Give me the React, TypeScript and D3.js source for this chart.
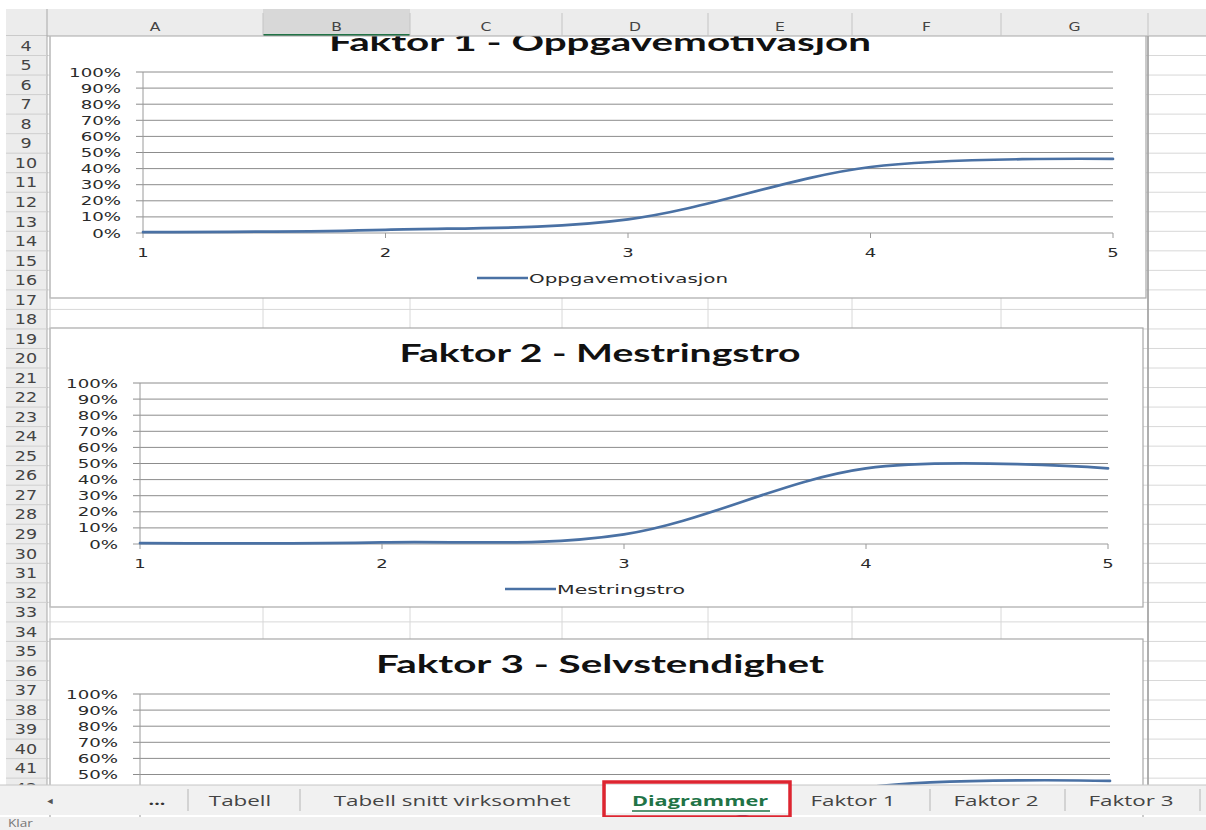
import React from 'react';
import * as d3 from 'd3';

// ---------- data ----------
const xCategories = [1, 2, 3, 4, 5];
const yTickValues = [0, 10, 20, 30, 40, 50, 60, 70, 80, 90, 100];
const chartTitles = ['Faktor 1 - Oppgavemotivasjon', 'Faktor 2 - Mestringstro', 'Faktor 3 - Selvstendighet'];
const seriesNames = ['Oppgavemotivasjon', 'Mestringstro', 'Selvstendighet'];
const oppgavemotivasjon = [0.5, 2, 8.5, 41, 46];
const mestringstro = [0.5, 1, 6, 47, 47];
const selvstendighet = [0.5, 1.5, 8, 42, 46];
const columnLetters = ['A', 'B', 'C', 'D', 'E', 'F', 'G'];
const rowNumbers = d3.range(4, 43);
const sheetTabs = ['Tabell', 'Tabell snitt virksomhet', 'Diagrammer', 'Faktor 1', 'Faktor 2', 'Faktor 3'];
const statusText = 'Klar';

// ---------- layout ----------
const W = 1206, H = 830;
const HEADER_TOP = 9, HEADER_BOTTOM = 36;
const ROW_H = 19.53;
const colBounds = [47, 263, 410, 562, 708, 852, 1001, 1148];
const TAB_TOP = 785, TAB_BOTTOM = 815;
const LINE_COLOR = '#4a71a4';
const GRID = '#8c8c8c';
const TICK_FONT = 'DejaVu Sans, Verdana, sans-serif';
const UI_FONT = 'Open Sans, Noto Sans, sans-serif';

const charts = [
  { top: 17, x0: 143, x1: 1113, right: 1146, h: 281, values: oppgavemotivasjon, titleW: 542, legendX: 477, legendTextW: 199 },
  { top: 328, x0: 140, x1: 1108, right: 1143, h: 279, values: mestringstro, titleW: 401, legendX: 505, legendTextW: 128 },
  { top: 639, x0: 140, x1: 1110, right: 1143, h: 279, values: selvstendighet, titleW: 448, legendX: 490, legendTextW: 150 },
];

function SText(props: { x: number; y: number; text: string; size: number; sx?: number; anchor?: string; fill?: string; weight?: string | number; family?: string; }) {
  const { x, y, text, size, sx = 1.45, anchor = 'start', fill = '#2a2a2a', weight = 'normal', family = TICK_FONT } = props;
  return (
    <text transform={`translate(${x},${y}) scale(${sx},1)`} fontSize={size} textAnchor={anchor} fill={fill} fontWeight={weight} fontFamily={family}>
      {text}
    </text>
  );
}

// text lying fully under the sheet-tab bar is hidden in the reference; skip it
const visible = (baseline: number, size: number) => baseline - size * 0.75 < TAB_TOP;

function Chart({ idx }: { idx: number }) {
  const c = charts[idx];
  const y = d3.scaleLinear().domain([0, 100]).range([c.top + 216, c.top + 55]);
  const x = d3.scaleLinear().domain([1, 5]).range([c.x0, c.x1]);
  const line = d3.line<number>()
    .x((_, i) => x(xCategories[i]))
    .y((d) => y(d))
    .curve(d3.curveCardinal.tension(0));
  const legendY = c.top + 261;
  return (
    <g>
      <rect x={50} y={c.top} width={c.right - 50} height={c.h} fill="#fff" stroke="#a8a8a8" strokeWidth={1.2} />
      <text x={600} y={c.top + 34} textAnchor="middle" fontFamily="Lato, Open Sans, sans-serif" fontWeight={700} fontSize={25} fill="#111"
        textLength={c.titleW} lengthAdjust="spacingAndGlyphs">{chartTitles[idx]}</text>
      {yTickValues.map((t) => (
        <g key={t}>
          <line x1={c.x0 - 7} x2={c.x1} y1={y(t)} y2={y(t)} stroke={t === 0 ? '#9a9a9a' : GRID} strokeWidth={1} />
          {visible(y(t) + 4.5, 11.5) && (
            <SText x={c.x0 - 22} y={y(t) + 4.5} text={`${t}%`} size={11.5} sx={1.58} anchor="end" />
          )}
        </g>
      ))}
      <line x1={c.x0} x2={c.x0} y1={y(100)} y2={y(0)} stroke="#9a9a9a" />
      {xCategories.map((v) => (
        <g key={v}>
          <line x1={x(v)} x2={x(v)} y1={y(0)} y2={y(0) + 5} stroke="#9a9a9a" />
          {visible(c.top + 240, 12) && (
            <SText x={x(v)} y={c.top + 240} text={String(v)} size={12} sx={1.5} anchor="middle" />
          )}
        </g>
      ))}
      <path d={line(c.values) || ''} fill="none" stroke={LINE_COLOR} strokeWidth={2.7} strokeLinecap="round" />
      <line x1={c.legendX} x2={c.legendX + 51} y1={legendY} y2={legendY} stroke={LINE_COLOR} strokeWidth={2.7} />
      {visible(legendY + 5, 12.5) && (
        <text x={c.legendX + 52} y={legendY + 5} fontFamily={TICK_FONT} fontSize={12.5} fill="#2a2a2a"
          textLength={c.legendTextW} lengthAdjust="spacingAndGlyphs">{seriesNames[idx]}</text>
      )}
    </g>
  );
}

export default function App() {
  const rowTop = (n: number) => HEADER_BOTTOM + (n - 4) * ROW_H;
  const tabX = [240, 452, 700, 853, 996, 1131];
  const tabSeps = [188, 300, 930, 1065, 1200];
  return (
    <svg width={W} height={H} style={{ position: 'absolute', left: 0, top: 0, background: '#fff' }}>
      <rect x={0} y={0} width={W} height={H} fill="#fff" />
      {/* sheet grid */}
      {rowNumbers.map((n) => (
        <line key={'r' + n} x1={47} x2={W} y1={rowTop(n) + ROW_H} y2={rowTop(n) + ROW_H} stroke="#d8d8d8" />
      ))}
      {colBounds.slice(1).map((b, i) => (
        <line key={'c' + i} x1={b} x2={b} y1={HEADER_BOTTOM} y2={TAB_TOP} stroke="#d8d8d8" />
      ))}
      <line x1={1148} x2={1148} y1={HEADER_BOTTOM} y2={TAB_TOP} stroke="#9b9b9b" strokeWidth={1.5} />

      {charts.map((_, i) => <Chart key={i} idx={i} />)}

      {/* column header */}
      <rect x={0} y={0} width={W} height={HEADER_TOP} fill="#fff" />
      <rect x={6} y={HEADER_TOP} width={W - 6} height={HEADER_BOTTOM - HEADER_TOP} fill="#ececec" />
      <rect x={263} y={HEADER_TOP} width={147} height={HEADER_BOTTOM - HEADER_TOP} fill="#d8d8d8" />
      <line x1={263} x2={410} y1={HEADER_BOTTOM - 1} y2={HEADER_BOTTOM - 1} stroke="#217346" strokeWidth={2} />
      <line x1={6} x2={W} y1={HEADER_BOTTOM} y2={HEADER_BOTTOM} stroke="#a8a8a8" />
      {colBounds.slice(1).map((b) => (
        <line key={'hs' + b} x1={b} x2={b} y1={HEADER_TOP + 4} y2={HEADER_BOTTOM} stroke="#c4c4c4" />
      ))}
      {columnLetters.map((l, i) => (
        <SText key={'h' + l} x={(colBounds[i] + colBounds[i + 1]) / 2} y={HEADER_BOTTOM - 5} text={l} size={12} sx={1.3} anchor="middle" fill="#444" />
      ))}
      {/* row header */}
      <rect x={6} y={HEADER_BOTTOM} width={41} height={TAB_TOP - HEADER_BOTTOM} fill="#ececec" />
      <line x1={47} x2={47} y1={HEADER_TOP} y2={TAB_TOP} stroke="#a8a8a8" />
      <line x1={50} x2={50} y1={HEADER_BOTTOM} y2={TAB_TOP} stroke="#c8c8c8" />
      {rowNumbers.map((n) => (
        <g key={'rh' + n}>
          <line x1={6} x2={47} y1={rowTop(n) + ROW_H} y2={rowTop(n) + ROW_H} stroke="#cfcfcf" />
          <SText x={26} y={rowTop(n) + ROW_H / 2 + 5} text={String(n)} size={13.5} sx={1.3} anchor="middle" fill="#444" />
        </g>
      ))}
      {/* tab bar */}
      <rect x={0} y={TAB_TOP} width={W} height={TAB_BOTTOM - TAB_TOP} fill="#f1f1f1" />
      <line x1={0} x2={W} y1={TAB_TOP} y2={TAB_TOP} stroke="#c6c6c6" />
      <SText x={50} y={804} text="◄" size={9} sx={1} anchor="middle" fill="#555" family={UI_FONT} />
      <SText x={157} y={805} text="..." size={14} sx={1.4} anchor="middle" fill="#333" weight={700} family={UI_FONT} />
      {tabSeps.map((s) => <line key={s} x1={s} x2={s} y1={789} y2={811} stroke="#b5b5b5" />)}
      <rect x={606} y={TAB_TOP} width={183} height={28} fill="#fff" />
      {sheetTabs.map((t, i) => (
        <SText key={t} x={tabX[i]} y={806} text={t} size={14} sx={i === 2 ? 1.55 : 1.6} anchor="middle"
          fill={i === 2 ? '#217346' : '#444'} weight={i === 2 ? 700 : 400} family={UI_FONT} />
      ))}
      <line x1={632} x2={770} y1={811} y2={811} stroke="#217346" strokeWidth={1.5} />
      <rect x={604} y={782} width={186} height={35} fill="none" stroke="#dd2530" strokeWidth={3.5} />
      {/* status bar */}
      <rect x={0} y={TAB_BOTTOM + 2} width={W} height={H - TAB_BOTTOM - 2} fill="#f0f0f0" />
      <SText x={8} y={827} text={statusText} size={10.5} sx={1.3} fill="#777" family={UI_FONT} />
    </svg>
  );
}
